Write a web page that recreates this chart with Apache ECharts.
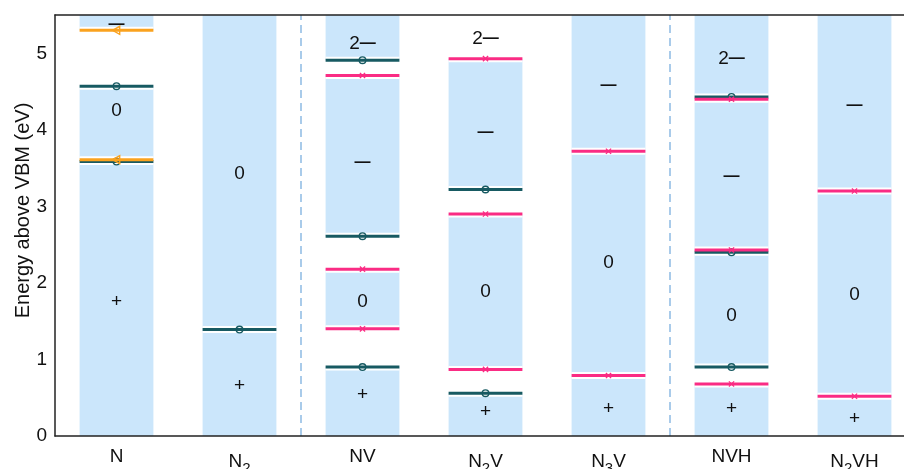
<!DOCTYPE html>
<html>
<head>
<meta charset="utf-8">
<script src="https://cdn.jsdelivr.net/npm/echarts@6/dist/echarts.min.js"></script>
<style>
  html, body { margin: 0; padding: 0; background: #fff; }
  #chart { width: 904px; height: 469px; }
</style>
</head>
<body>
<div id="chart"></div>
<script>
// defects along the x axis
const categories = ['N', 'N2', 'NV', 'N2V', 'N3V', 'NVH', 'N2VH'];

// light blue bands where a charge state is stable: [category, from, to]
const stableBands = [
  [0, 0, 3.585], [0, 3.61, 4.57], [0, 5.30, 5.5],
  [1, 0, 5.5],
  [2, 0, 0.90], [2, 1.40, 2.18], [2, 2.61, 4.71], [2, 4.91, 5.5],
  [3, 0, 0.56], [3, 0.87, 2.90], [3, 3.22, 4.93],
  [4, 0, 5.5],
  [5, 0, 0.68], [5, 0.90, 2.40], [5, 2.43, 4.40], [5, 4.43, 5.5],
  [6, 0, 5.5]
];

// transition levels (eV), one array per marker kind: [category, energy]
const circleLevels = [
  [0, 4.57], [0, 3.585], [1, 1.39],
  [2, 4.91], [2, 2.61], [2, 0.90],
  [3, 3.22], [3, 0.56],
  [5, 4.43], [5, 2.40], [5, 0.90]
];
const crossLevels = [
  [2, 4.71], [2, 2.18], [2, 1.40],
  [3, 4.93], [3, 2.90], [3, 0.87],
  [4, 3.72], [4, 0.79],
  [5, 4.40], [5, 2.43], [5, 0.68],
  [6, 3.20], [6, 0.52]
];
const triangleLevels = [[0, 5.30], [0, 3.61]];

// charge state labels: [category, energy, text]
const chargeLabels = [
  [0, 5.37, '−'], [0, 4.25, '0'], [0, 1.76, '+'],
  [1, 3.43, '0'], [1, 0.66, '+'],
  [2, 5.13, '2−'], [2, 3.57, '−'], [2, 1.75, '0'], [2, 0.54, '+'],
  [3, 5.19, '2−'], [3, 3.96, '−'], [3, 1.88, '0'], [3, 0.32, '+'],
  [4, 4.58, '−'], [4, 2.26, '0'], [4, 0.35, '+'],
  [5, 4.93, '2−'], [5, 3.385, '−'], [5, 1.57, '0'], [5, 0.35, '+'],
  [6, 4.32, '−'], [6, 1.85, '0'], [6, 0.22, '+']
];

// dashed separators after these category indices
const separators = [1, 4];

const yMin = 0, yMax = 5.5, yStep = 1;

const BAR = 0.6;
const teal = '#175a62';
const pink = '#fa2c84';
const orange = '#faa21e';
const blue = '#cbe6fb';
const ink = '#111';
const font = 'Liberation Sans';

const chart = echarts.init(document.getElementById('chart'));

function barBox(api, cat, val) {
  const c = api.coord([cat, val]);
  const w = api.size([1, 0])[0] * BAR;
  return { x: c[0] - w / 2, y: c[1], w: w, cx: c[0] };
}

function renderBand(params, api) {
  const lo = barBox(api, api.value(0), api.value(1));
  const hi = barBox(api, api.value(0), api.value(2));
  return {
    type: 'rect',
    shape: { x: lo.x, y: hi.y, width: lo.w, height: lo.y - hi.y },
    style: { fill: blue }
  };
}

function renderHalo(params, api) {
  const b = barBox(api, api.value(0), api.value(1));
  return {
    type: 'rect',
    shape: { x: b.x, y: b.y - 3.5, width: b.w, height: 7 },
    style: { fill: '#fff' }
  };
}

function makeLevelRenderer(color, kind) {
  return function (params, api) {
    const b = barBox(api, api.value(0), api.value(1));
    const kids = [{
      type: 'line',
      shape: { x1: b.x, y1: b.y, x2: b.x + b.w, y2: b.y },
      style: { stroke: color, lineWidth: 3 }
    }];
    if (kind === 'circle') {
      kids.push({
        type: 'circle',
        shape: { cx: b.cx, cy: b.y, r: 3.3 },
        style: { fill: 'none', stroke: color, lineWidth: 1.4 }
      });
    } else if (kind === 'cross') {
      const s = 2.6;
      kids.push({
        type: 'polyline',
        shape: { points: [[b.cx - s, b.y - s], [b.cx + s, b.y + s]] },
        style: { stroke: color, lineWidth: 1.3, fill: null }
      }, {
        type: 'polyline',
        shape: { points: [[b.cx - s, b.y + s], [b.cx + s, b.y - s]] },
        style: { stroke: color, lineWidth: 1.3, fill: null }
      });
    } else {
      const s = 4;
      kids.push({
        type: 'polygon',
        shape: { points: [[b.cx - s, b.y], [b.cx + s * 0.8, b.y - s], [b.cx + s * 0.8, b.y + s]] },
        style: { fill: 'none', stroke: color, lineWidth: 1.4 }
      });
    }
    return { type: 'group', children: kids };
  };
}

function renderCharge(params, api) {
  const c = api.coord([api.value(0), api.value(1)]);
  const txt = chargeLabels[params.dataIndex][2];
  return {
    type: 'text',
    x: c[0],
    y: c[1],
    style: {
      text: txt.replace('−', '{m|—}'),
      fontFamily: font,
      fontSize: 19,
      fill: ink,
      align: 'center',
      verticalAlign: 'middle',
      rich: { m: { fontFamily: font, fontSize: 16, fill: ink, fontWeight: 'bold' } }
    }
  };
}

function renderSeparator(params, api) {
  const c = api.coord([api.value(0), yMin]);
  const top = api.coord([api.value(0), yMax]);
  const x = c[0] + api.size([1, 0])[0] / 2;
  return {
    type: 'line',
    shape: { x1: x, y1: c[1], x2: x, y2: top[1] },
    style: { stroke: '#8dbbe4', lineWidth: 1.5, lineDash: [8, 5] }
  };
}

const allLevels = circleLevels.concat(crossLevels, triangleLevels);

const axisFont = { fontFamily: font, fontSize: 19, color: ink };

chart.setOption({
  animation: false,
  grid: { left: 55, right: -12, top: 15, bottom: 33, outerBoundsMode: 'none', containLabel: false },
  xAxis: [{
    type: 'category',
    data: categories,
    z: 10,
    axisLine: { lineStyle: { color: '#222', width: 1.5 } },
    axisTick: { inside: true, length: 8, alignWithLabel: true, lineStyle: { color: '#222', width: 1.3 } },
    axisLabel: {
      ...axisFont,
      margin: 11,
      formatter: v => v.replace(/(\d)/g, '{s|$1}'),
      rich: { s: { fontFamily: font, fontSize: 15, color: ink, padding: [14, 0, 0, 0] } }
    }
  }, {
    type: 'category',
    data: categories,
    position: 'top',
    z: 10,
    axisLine: { lineStyle: { color: '#222', width: 1.5 } },
    axisTick: { inside: true, length: 8, alignWithLabel: true, lineStyle: { color: '#222', width: 1.3 } },
    axisLabel: { show: false }
  }],
  yAxis: {
    type: 'value',
    min: yMin,
    max: yMax,
    interval: yStep,
    z: 10,
    name: 'Energy above VBM (eV)',
    nameLocation: 'middle',
    nameGap: 22,
    nameMoveOverlap: false,
    nameTextStyle: { fontFamily: font, fontSize: 20, color: ink, padding: [0, 0, 0, 30] },
    splitLine: { show: false },
    axisLine: { show: true, lineStyle: { color: '#222', width: 1.5 } },
    axisTick: { inside: true, length: 7, lineStyle: { color: '#222', width: 1.3 } },
    axisLabel: {
      ...axisFont,
      margin: 8,
      showMaxLabel: false,
      formatter: v => (v % 1 === 0 ? String(v) : '')
    }
  },
  series: [
    { type: 'custom', renderItem: renderBand, data: stableBands, z: 1, silent: true },
    { type: 'custom', renderItem: renderSeparator, data: separators.map(i => [i]), z: 1, silent: true },
    { type: 'custom', renderItem: renderHalo, data: allLevels, z: 2, silent: true },
    { type: 'custom', renderItem: makeLevelRenderer(teal, 'circle'), data: circleLevels, z: 3, silent: true },
    { type: 'custom', renderItem: makeLevelRenderer(pink, 'cross'), data: crossLevels, z: 3, silent: true },
    { type: 'custom', renderItem: makeLevelRenderer(orange, 'triangle'), data: triangleLevels, z: 4, silent: true },
    { type: 'custom', renderItem: renderCharge, data: chargeLabels.map(d => [d[0], d[1]]), z: 5, silent: true }
  ]
});
</script>
</body>
</html>
